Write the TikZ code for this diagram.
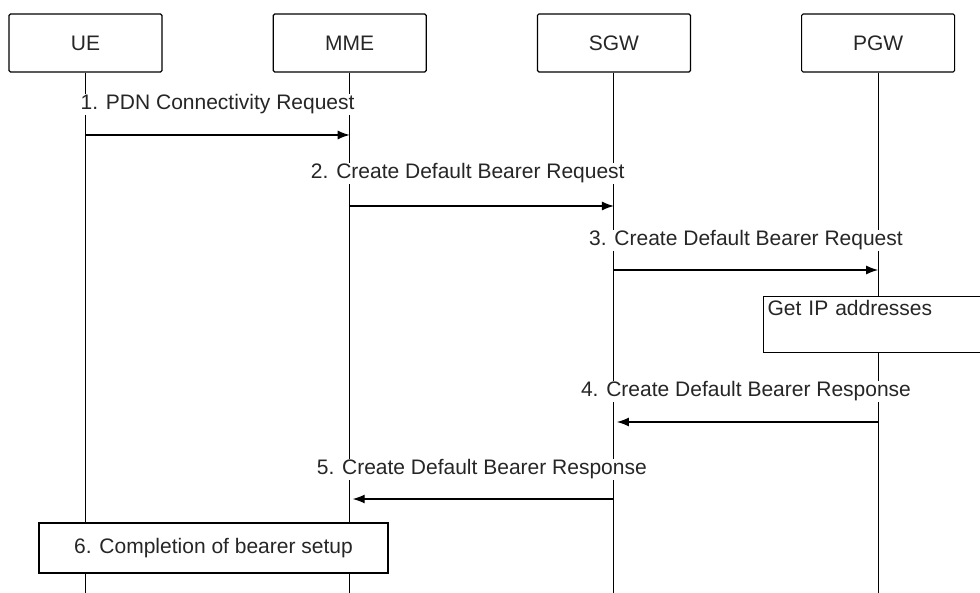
\documentclass[tikz,border=0pt]{standalone}
\usepackage{fontspec}
\setmainfont{Liberation Sans}
\usetikzlibrary{positioning, arrows.meta}

\begin{document}
\begin{tikzpicture}[
  x=1pt, y=-1pt,
  font=\fontsize{21}{25}\selectfont,
  node distance=110pt,
  entity/.style={draw, rounded corners=1.5pt, line width=1.2pt,
                 minimum width=153pt, minimum height=58pt, text=black!85},
  life/.style={line width=1.1pt},
  msg/.style={-{Latex[length=12pt,width=9pt]}, line width=1.2pt},
  lbl/.style={fill=white, inner sep=1pt, text=black!85, anchor=base, yshift=25pt},
  action/.style={draw, fill=white, line width=1.2pt, text=black!85},
]
  \useasboundingbox (0,0) rectangle (980,593);

  % --- entities ---
  \node[entity] (ue) at (85.5,43) {UE};
  \node[entity, right=of ue] (mme) {MME};
  \node[entity, right=of mme] (sgw) {SGW};
  \node[entity, right=of sgw] (pgw) {PGW};

  % --- lifelines ---
  \foreach \e in {ue, mme, sgw, pgw} {
    \coordinate (\e-end) at (\e |- 0,593);
    \draw[life] (\e) -- (\e-end);
  }

  % --- attach request ---
  \draw[msg] (ue |- 0,135) -- (mme |- 0,135)
    node[lbl, midway] {1. PDN Connectivity Request};
  \draw[msg] (mme |- 0,206) -- (sgw |- 0,206)
    node[lbl, midway, xshift=-14pt, yshift=2pt] {2. Create Default Bearer Request};
  \draw[msg] (sgw |- 0,270) -- (pgw |- 0,270)
    node[lbl, midway, yshift=-1pt] {3. Create Default Bearer Request};

  % --- PGW side ---
  \node[action, anchor=north west, text width=230pt, align=left,
        text depth=33pt, inner sep=4pt] (getip) at (763,296) {Get IP addresses};

  % --- responses ---
  \draw[msg, shorten >=3pt] (pgw |- 0,422) -- (sgw |- 0,422)
    node[lbl, midway] {4. Create Default Bearer Response};
  \draw[msg, shorten >=3pt] (sgw |- 0,499) -- (mme |- 0,499)
    node[lbl, midway, yshift=-1pt] {5. Create Default Bearer Response};

  \node[action, minimum width=349pt, minimum height=50pt] (setup) at (213.5,548)
    {6. Completion of bearer setup};
\end{tikzpicture}
\end{document}
